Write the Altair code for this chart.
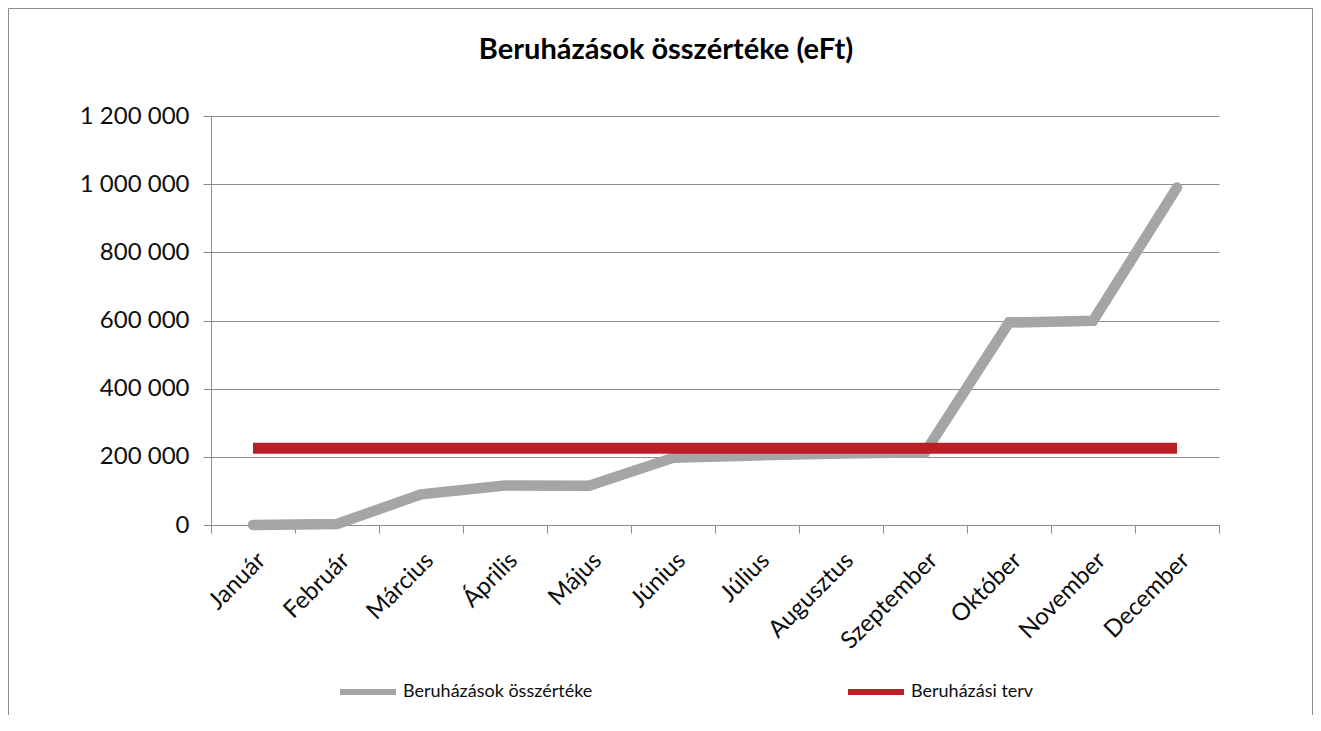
import altair as alt
import pandas as pd

months = ["Január", "Február", "Március", "Április", "Május", "Június",
          "Július", "Augusztus", "Szeptember", "Október", "November", "December"]
beruhazasok = [0, 3000, 90000, 116000, 115000, 197000, 204000, 210000, 213000, 594000, 599000, 990000]
terv = [225000] * 12
series_names = ["Beruházások összértéke", "Beruházási terv"]
series_colors = ["#A5A5A5", "#BA1F25"]
y_ticks = [0, 200000, 400000, 600000, 800000, 1000000, 1200000]

FONT = "Lato"
TXT = "#0d0d0d"

df = pd.DataFrame({
    "Hónap": months * 2,
    "Érték": beruhazasok + terv,
    "Sorozat": [series_names[0]] * 12 + [series_names[1]] * 12,
})

x = alt.X("Hónap:N", sort=months,
          scale=alt.Scale(type="band", paddingInner=0, paddingOuter=0),
          axis=alt.Axis(title=None, labelAngle=-45, tickBand="extent", ticks=True,
                        tickSize=8, tickColor="#8c8c8c", domainColor="#8c8c8c",
                        labelFontSize=24, labelFont=FONT, labelColor=TXT,
                        labelPadding=15, grid=False))
y = alt.Y("Érték:Q",
          scale=alt.Scale(domain=[0, 1200000], nice=False),
          axis=alt.Axis(title=None, values=y_ticks, tickSize=8, tickColor="#8c8c8c",
                        domainColor="#8c8c8c", gridColor="#8c8c8c", grid=True,
                        labelFontSize=24, labelFont=FONT, labelColor=TXT,
                        labelPadding=14,
                        labelExpr="replace(format(datum.value, ','), /,/g, ' ')"))
color = alt.Color("Sorozat:N",
                  scale=alt.Scale(domain=series_names, range=series_colors),
                  legend=alt.Legend(title=None, orient="none", direction="horizontal",
                                    legendX=126, legendY=545, symbolType="stroke",
                                    symbolSize=3136, symbolStrokeWidth=6,
                                    labelFontSize=18, labelFont=FONT, labelColor=TXT,
                                    labelLimit=400, labelOffset=4, columnPadding=243))

base = alt.Chart(df).encode(x=x, y=y, color=color)

gray = base.transform_filter(alt.datum["Sorozat"] == series_names[0]).mark_line(
    strokeWidth=10.5, strokeCap="round")
red = base.transform_filter(alt.datum["Sorozat"] == series_names[1]).mark_line(
    strokeWidth=11, strokeCap="butt")

frame_df = pd.DataFrame({"k": [0]})
frame = alt.layer(
    alt.Chart(frame_df).mark_rule(color="#8c8c8c", strokeWidth=1).encode(
        x=alt.value(-202.5), y=alt.value(-107.5), y2=alt.value(600)),
    alt.Chart(frame_df).mark_rule(color="#8c8c8c", strokeWidth=1).encode(
        x=alt.value(-202.5), x2=alt.value(1101.5), y=alt.value(-107.5)),
    alt.Chart(frame_df).mark_rule(color="#8c8c8c", strokeWidth=1).encode(
        x=alt.value(1101.5), y=alt.value(-107.5), y2=alt.value(600)),
)

chart = alt.layer(gray, red, frame).properties(
    width=1008, height=409,
    title=alt.TitleParams("Beruházások összértéke (eFt)", fontSize=29, fontWeight="bold",
                          font=FONT, color="#000000", anchor="middle", baseline="alphabetic",
                          dx=-49, dy=80, offset=0),
    autosize=alt.AutoSizeParams(type="none"),
    padding={"left": 203, "top": 108, "right": 94, "bottom": 190},
).configure_view(stroke=None)

chart.save("out.html", embed_options={"renderer": "svg", "actions": False})
